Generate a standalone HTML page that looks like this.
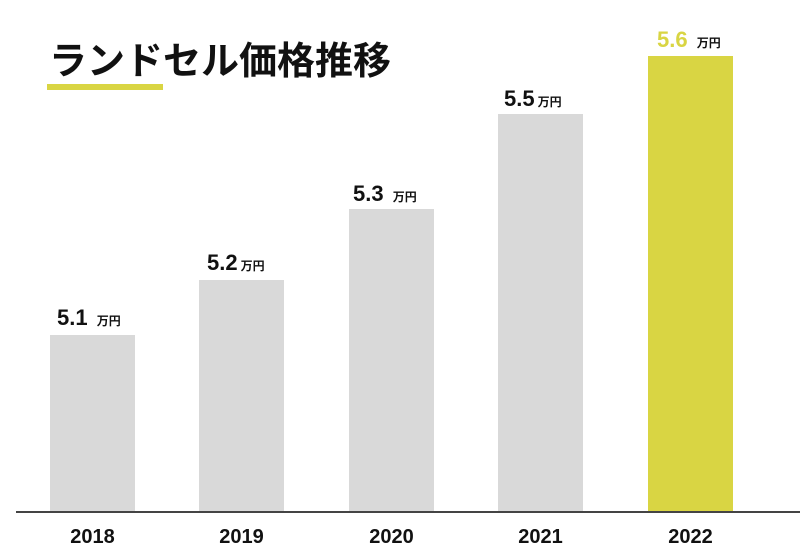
<!DOCTYPE html>
<html><head><meta charset="utf-8"><style>
body{margin:0;width:800px;height:557px;background:#fff;position:relative;overflow:hidden;font-family:"Liberation Sans","Noto Sans CJK JP",sans-serif}
.a{position:absolute;white-space:nowrap}
.bar{position:absolute;background:#d9d9d9;width:85px;bottom:45px}
.t{font-weight:bold;font-size:38px;left:49px;top:30px;color:#111}
.yr{font-weight:bold;font-size:20px;top:526px;width:85px;text-align:center;color:#111}
.v{font-weight:bold;font-size:22px;color:#111}
.v small{font-size:12px;margin-left:3px}
</style></head><body>
<div class="a t">ランドセル価格推移</div>
<div class="a" style="left:47px;top:84px;width:116px;height:6px;background:#d9d543"></div>
<div class="bar" style="left:50px;top:335px"></div>
<div class="bar" style="left:199px;top:280px"></div>
<div class="bar" style="left:349px;top:209px"></div>
<div class="bar" style="left:498px;top:114px"></div>
<div class="bar" style="left:648px;top:56px;background:#d9d543"></div>
<div class="a" style="left:16px;top:511px;width:784px;height:2px;background:#444"></div>
<div class="a yr" style="left:50px">2018</div>
<div class="a yr" style="left:199px">2019</div>
<div class="a yr" style="left:349px">2020</div>
<div class="a yr" style="left:498px">2021</div>
<div class="a yr" style="left:648px">2022</div>
<div class="a v" style="left:57px;top:305px">5.1 <small>万円</small></div>
<div class="a v" style="left:207px;top:250px">5.2<small>万円</small></div>
<div class="a v" style="left:353px;top:181px">5.3 <small>万円</small></div>
<div class="a v" style="left:504px;top:86px">5.5<small>万円</small></div>
<div class="a v" style="left:657px;top:27px;color:#d9d543">5.6 <small style="color:#111">万円</small></div>
</body></html>
